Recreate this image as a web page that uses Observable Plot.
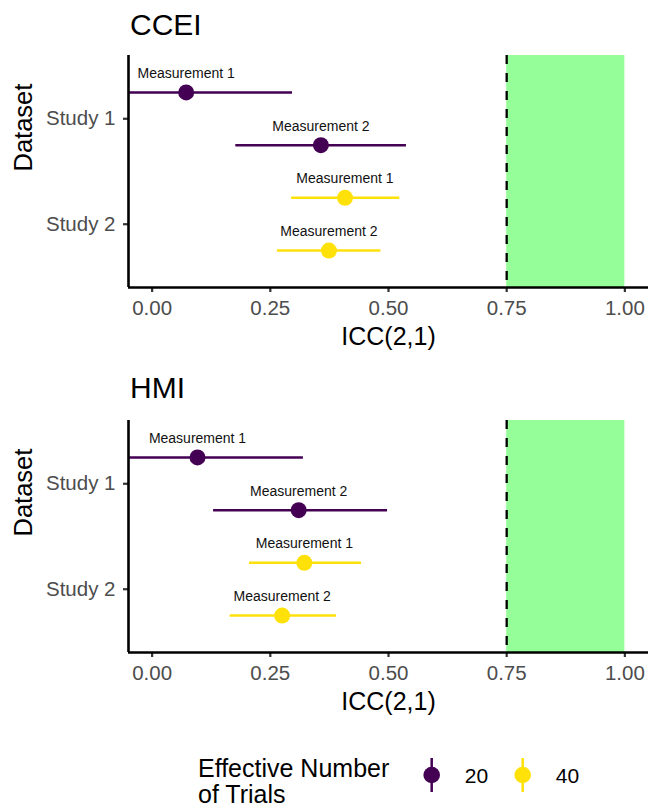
<!DOCTYPE html>
<html>
<head>
<meta charset="utf-8">
<script src="https://cdn.jsdelivr.net/npm/d3@7"></script>
<script src="https://cdn.jsdelivr.net/npm/@observablehq/plot@0.6"></script>
<style>
  html, body { margin: 0; padding: 0; background: white; }
  #root { position: relative; width: 648px; height: 809px; font-family: "Liberation Sans", Arial, Helvetica, sans-serif; }
  .title { position: absolute; left: 130px; font-size: 30px; line-height: 1; color: #000; }
  .panel { position: absolute; left: 0; }
</style>
</head>
<body>
<div id="root"></div>
<script>
// ---- data ----
const studies = ["Study 1", "Study 2"];
const measurements = ["Measurement 1", "Measurement 2"];
const trials = [20, 40];                 // effective number of trials per study
const colors = ["#440154", "#FFE10A"];   // purple / yellow
const panelTitles = ["CCEI", "HMI"];
const xTicks = [0, 0.25, 0.5, 0.75, 1];
const goodFrom = 0.75, goodTo = 1.0;

// rows ordered: Study1/M1, Study1/M2, Study2/M1, Study2/M2
const rowStudy = ["Study 1", "Study 1", "Study 2", "Study 2"];
const rowMeas  = ["Measurement 1", "Measurement 2", "Measurement 1", "Measurement 2"];

const cceiICC   = [0.072, 0.357, 0.408, 0.374];
const cceiLower = [-0.20, 0.177, 0.295, 0.265];
const cceiUpper = [0.297, 0.538, 0.524, 0.484];

const hmiICC   = [0.096, 0.310, 0.322, 0.275];
const hmiLower = [-0.15, 0.130, 0.206, 0.165];
const hmiUpper = [0.320, 0.498, 0.443, 0.390];

// ---- build ----
const FONT = '"Liberation Sans", Arial, Helvetica, sans-serif';
const xDomain = [-0.05, 1.05];
const yDomain = [2.6, 0.4];
const dodge = 0.25;

function rows(icc, lo, hi) {
  return icc.map((v, i) => ({
    study: rowStudy[i],
    measurement: rowMeas[i],
    trials: trials[studies.indexOf(rowStudy[i])],
    icc: v, lo: lo[i], hi: hi[i]
  }));
}
const yPos = d => studies.indexOf(d.study) + 1 + (measurements.indexOf(d.measurement) === 0 ? -dodge : dodge);

function panel(data) {
  return Plot.plot({
    width: 648, height: 365,
    marginLeft: 128, marginRight: 0, marginTop: 55, marginBottom: 78,
    style: { fontFamily: FONT, background: "white", overflow: "visible" },
    x: { domain: xDomain },
    y: { domain: yDomain },
    color: { domain: trials, range: colors },
    marks: [
      Plot.rectX([{ x1: goodFrom, x2: goodTo }], { x1: "x1", x2: "x2", fill: "#96FE98" }),
      Plot.ruleX([goodFrom], { stroke: "black", strokeWidth: 2.3, strokeDasharray: "9,9" }),
      Plot.ruleY(data, { y: yPos, x1: "lo", x2: "hi", stroke: "trials", strokeWidth: 2.5, clip: true }),
      Plot.dot(data, { x: "icc", y: yPos, r: 8, fill: "trials", stroke: "none" }),
      Plot.text(data, { x: "icc", y: yPos, text: "measurement", dy: -19, fontSize: 14, fill: "#111", lineAnchor: "middle" }),
      Plot.axisX({ ticks: xTicks, tickFormat: d3.format(".2f"), tickSize: 5, tickPadding: 8,
                   fontSize: 20.5, fill: "#4D4D4D", stroke: "#333", strokeWidth: 2.2, label: null }),
      Plot.axisY({ ticks: [1, 2], tickFormat: i => studies[i - 1], tickSize: 5, tickPadding: 8,
                   fontSize: 20.5, fill: "#4D4D4D", stroke: "#333", strokeWidth: 2.2, label: null }),
      Plot.ruleX([xDomain[0]], { stroke: "black", strokeWidth: 2.6 }),
      Plot.ruleY([yDomain[0]], { stroke: "black", strokeWidth: 2.6 }),
      Plot.text(["ICC(2,1)"], { text: d => d, frameAnchor: "bottom", dy: 49, fontSize: 25, fill: "black", lineAnchor: "middle" }),
      Plot.text(["Dataset"], { text: d => d, frameAnchor: "left", dx: -105, rotate: -90, fontSize: 25.5, fill: "black", lineAnchor: "middle" })
    ]
  });
}

const root = document.getElementById("root");
const datasets = [rows(cceiICC, cceiLower, cceiUpper), rows(hmiICC, hmiLower, hmiUpper)];
const panelTops = [0, 365];
const titleTops = [9.6, 372.9];
datasets.forEach((data, i) => {
  const wrap = document.createElement("div");
  wrap.className = "panel";
  wrap.style.top = panelTops[i] + "px";
  wrap.appendChild(panel(data));
  root.appendChild(wrap);
  const t = document.createElement("div");
  t.className = "title";
  t.style.top = titleTops[i] + "px";
  t.textContent = panelTitles[i];
  root.appendChild(t);
});

// ---- legend ----
const legendTitle = ["Effective Number", "of Trials"];
const legendX = [431.7, 522.7];
const svg = d3.create("svg")
  .attr("width", 648).attr("height", 79)
  .style("position", "absolute").style("left", "0px").style("top", "730px")
  .style("font-family", FONT);
svg.selectAll("text.lt").data(legendTitle).join("text")
  .attr("x", 198).attr("y", (d, i) => 46.7 + i * 26.3)
  .attr("font-size", 25).attr("fill", "black").text(d => d);
const g = svg.selectAll("g.key").data(trials).join("g")
  .attr("transform", (d, i) => `translate(${legendX[i]},45)`);
g.append("line").attr("y1", -17).attr("y2", 17).attr("stroke", (d, i) => colors[i]).attr("stroke-width", 2.5);
g.append("circle").attr("r", 8.3).attr("fill", (d, i) => colors[i]);
g.append("text").attr("x", 33).attr("y", 8).attr("font-size", 21).attr("fill", "black").text(d => d);
root.appendChild(svg.node());
</script>
</body>
</html>
